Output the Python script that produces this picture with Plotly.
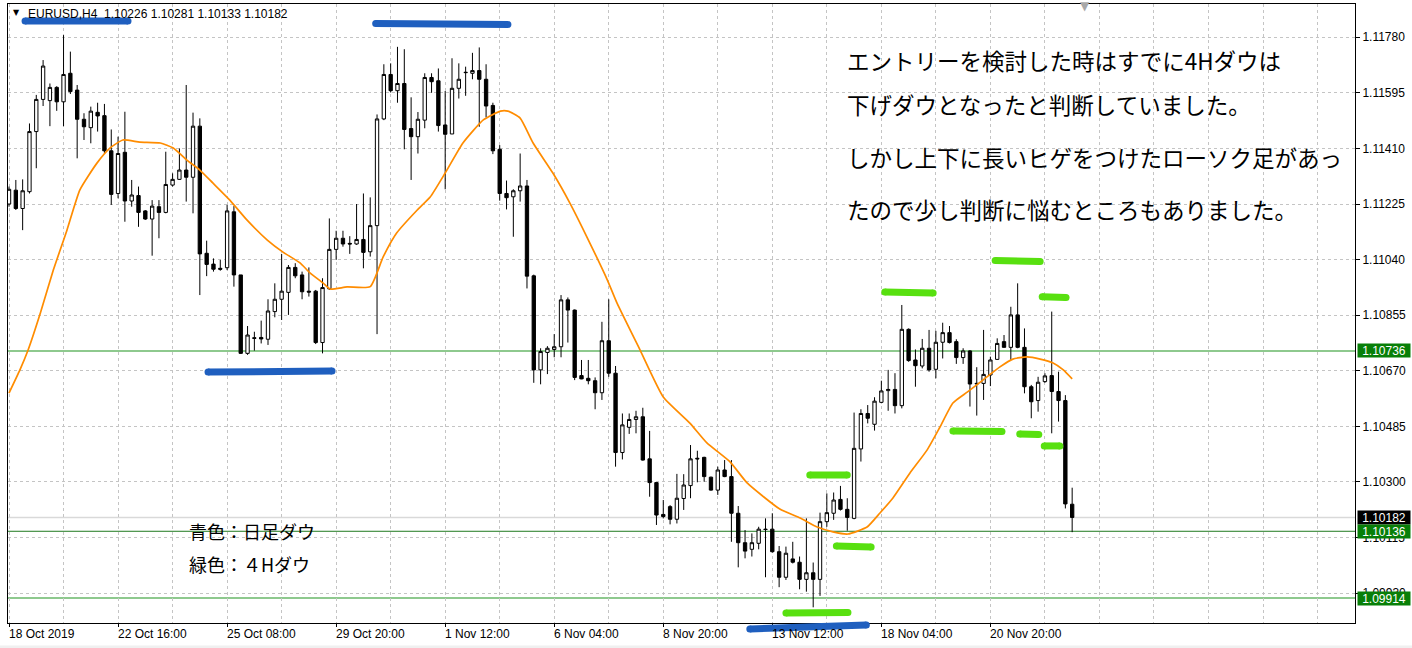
import plotly.graph_objects as go

# ---------------- data ----------------
opens = [1.11225, 1.11271, 1.11210, 1.11266, 1.11466, 1.11573, 1.11569, 1.11613, 1.11565, 1.11660,
         1.11604, 1.11507, 1.11479, 1.11530, 1.11519, 1.11402, 1.11260, 1.11397, 1.11235, 1.11253,
         1.11202, 1.11175, 1.11216, 1.11197, 1.11288, 1.11307, 1.11338, 1.11314, 1.11484, 1.11061,
         1.11025, 1.11011, 1.11013, 1.11199, 1.10989, 1.10728, 1.10780, 1.10781, 1.10775, 1.10867,
         1.10908, 1.10931, 1.11014, 1.10989, 1.10935, 1.10935, 1.10764, 1.10943, 1.11074, 1.11111,
         1.11094, 1.11092, 1.11107, 1.11066, 1.11153, 1.11508, 1.11656, 1.11602, 1.11626, 1.11476,
         1.11449, 1.11504, 1.11646, 1.11635, 1.11488, 1.11458, 1.11610, 1.11662, 1.11660, 1.11669,
         1.11640, 1.11553, 1.11407, 1.11260, 1.11249, 1.11269, 1.11285, 1.10986, 1.10673, 1.10731,
         1.10741, 1.10750, 1.10906, 1.10872, 1.10654, 1.10645, 1.10637, 1.10597, 1.10770, 1.10662,
         1.10398, 1.10482, 1.10508, 1.10517, 1.10377, 1.10298, 1.10192, 1.10218, 1.10176, 1.10245,
         1.10288, 1.10379, 1.10382, 1.10316, 1.10273, 1.10340, 1.10318, 1.10196, 1.10098, 1.10076,
         1.10096, 1.10143, 1.10143, 1.10068, 1.09983, 1.10044, 1.10033, 1.09976, 1.09998, 1.09976,
         1.10168, 1.10196, 1.10242, 1.10209, 1.10179, 1.10410, 1.10528, 1.10492, 1.10565, 1.10604,
         1.10608, 1.10554, 1.10808, 1.10706, 1.10686, 1.10745, 1.10675, 1.10765, 1.10797, 1.10767,
         1.10714, 1.10736, 1.10626, 1.10628, 1.10656, 1.10708, 1.10767, 1.10748, 1.10856, 1.10748,
         1.10617, 1.10571, 1.10634, 1.10654, 1.10601, 1.10571, 1.10226]
highs = [1.11283, 1.11305, 1.11307, 1.11493, 1.11588, 1.11704, 1.11626, 1.11617, 1.11787, 1.11732,
         1.11621, 1.11527, 1.11549, 1.11562, 1.11558, 1.11473, 1.11449, 1.11532, 1.11305, 1.11283,
         1.11205, 1.11238, 1.11238, 1.11399, 1.11327, 1.11410, 1.11621, 1.11529, 1.11510, 1.11103,
         1.11044, 1.11039, 1.11222, 1.11218, 1.10989, 1.10819, 1.10800, 1.10837, 1.10908, 1.10961,
         1.11059, 1.11022, 1.11028, 1.11000, 1.11014, 1.10939, 1.10978, 1.11177, 1.11136, 1.11136,
         1.11118, 1.11225, 1.11260, 1.11247, 1.11523, 1.11690, 1.11693, 1.11748, 1.11740, 1.11580,
         1.11531, 1.11660, 1.11660, 1.11676, 1.11601, 1.11710, 1.11693, 1.11682, 1.11728, 1.11746,
         1.11690, 1.11562, 1.11421, 1.11303, 1.11274, 1.11393, 1.11305, 1.10990, 1.10745, 1.10752,
         1.10792, 1.10922, 1.10914, 1.10874, 1.10706, 1.10706, 1.10648, 1.10833, 1.10908, 1.10686,
         1.10528, 1.10528, 1.10537, 1.10547, 1.10470, 1.10300, 1.10240, 1.10223, 1.10327, 1.10326,
         1.10423, 1.10404, 1.10384, 1.10318, 1.10351, 1.10373, 1.10373, 1.10220, 1.10140, 1.10129,
         1.10151, 1.10179, 1.10196, 1.10087, 1.10085, 1.10101, 1.10052, 1.10179, 1.10032, 1.10198,
         1.10262, 1.10265, 1.10287, 1.10246, 1.10531, 1.10542, 1.10556, 1.10582, 1.10637, 1.10673,
         1.10662, 1.10889, 1.10811, 1.10741, 1.10776, 1.10806, 1.10803, 1.10830, 1.10819, 1.10775,
         1.10745, 1.10739, 1.10682, 1.10806, 1.10717, 1.10778, 1.10789, 1.10883, 1.10961, 1.10811,
         1.10623, 1.10650, 1.10662, 1.10867, 1.10667, 1.10589, 1.10281]
lows = [1.11216, 1.11205, 1.11138, 1.11260, 1.11344, 1.11551, 1.11484, 1.11535, 1.11484, 1.11591,
        1.11377, 1.11438, 1.11427, 1.11466, 1.11393, 1.11222, 1.11244, 1.11166, 1.11216, 1.11149,
        1.11172, 1.11053, 1.11111, 1.11194, 1.11283, 1.11305, 1.11233, 1.11194, 1.10922, 1.10985,
        1.11000, 1.11003, 1.11005, 1.10950, 1.10726, 1.10723, 1.10737, 1.10761, 1.10756, 1.10848,
        1.10839, 1.10856, 1.10978, 1.10908, 1.10917, 1.10759, 1.10728, 1.10939, 1.11039, 1.11083,
        1.11059, 1.11089, 1.11011, 1.11050, 1.10792, 1.11504, 1.11596, 1.11562, 1.11407, 1.11305,
        1.11393, 1.11477, 1.11595, 1.11466, 1.11274, 1.11458, 1.11576, 1.11585, 1.11640, 1.11482,
        1.11513, 1.11391, 1.11236, 1.11207, 1.11116, 1.11233, 1.10944, 1.10630, 1.10625, 1.10659,
        1.10715, 1.10715, 1.10764, 1.10639, 1.10642, 1.10625, 1.10542, 1.10573, 1.10650, 1.10351,
        1.10375, 1.10460, 1.10462, 1.10371, 1.10251, 1.10157, 1.10179, 1.10159, 1.10162, 1.10207,
        1.10246, 1.10299, 1.10301, 1.10271, 1.10257, 1.10316, 1.10101, 1.10016, 1.10046, 1.10052,
        1.10076, 1.09983, 1.10065, 1.09950, 1.09974, 1.10029, 1.09943, 1.09935, 1.09883, 1.09921,
        1.10151, 1.10174, 1.10205, 1.10138, 1.10176, 1.10368, 1.10495, 1.10471, 1.10562, 1.10537,
        1.10528, 1.10545, 1.10700, 1.10617, 1.10678, 1.10667, 1.10645, 1.10711, 1.10761, 1.10693,
        1.10693, 1.10551, 1.10521, 1.10573, 1.10619, 1.10706, 1.10748, 1.10706, 1.10745, 1.10595,
        1.10512, 1.10534, 1.10630, 1.10462, 1.10501, 1.10212, 1.10133]
closes = [1.11274, 1.11210, 1.11269, 1.11466, 1.11573, 1.11684, 1.11613, 1.11565, 1.11656, 1.11599,
          1.11507, 1.11482, 1.11534, 1.11518, 1.11402, 1.11257, 1.11393, 1.11235, 1.11255, 1.11197,
          1.11175, 1.11218, 1.11197, 1.11290, 1.11307, 1.11338, 1.11314, 1.11484, 1.11059, 1.11024,
          1.11008, 1.11008, 1.11202, 1.10989, 1.10728, 1.10789, 1.10778, 1.10776, 1.10869, 1.10908,
          1.10935, 1.11014, 1.10986, 1.10933, 1.10932, 1.10764, 1.10947, 1.11074, 1.11111, 1.11092,
          1.11092, 1.11107, 1.11064, 1.11153, 1.11508, 1.11656, 1.11602, 1.11626, 1.11473, 1.11449,
          1.11507, 1.11646, 1.11632, 1.11486, 1.11457, 1.11610, 1.11640, 1.11663, 1.11669, 1.11640,
          1.11551, 1.11402, 1.11260, 1.11246, 1.11269, 1.11285, 1.10985, 1.10673, 1.10734, 1.10745,
          1.10750, 1.10906, 1.10872, 1.10648, 1.10643, 1.10637, 1.10597, 1.10770, 1.10662, 1.10398,
          1.10490, 1.10508, 1.10517, 1.10373, 1.10298, 1.10190, 1.10185, 1.10176, 1.10246, 1.10290,
          1.10377, 1.10377, 1.10318, 1.10273, 1.10340, 1.10318, 1.10196, 1.10098, 1.10070, 1.10098,
          1.10143, 1.10142, 1.10068, 1.09983, 1.10063, 1.10033, 1.09976, 1.09998, 1.09976, 1.10168,
          1.10198, 1.10240, 1.10209, 1.10182, 1.10412, 1.10528, 1.10512, 1.10569, 1.10603, 1.10608,
          1.10554, 1.10808, 1.10704, 1.10687, 1.10745, 1.10673, 1.10765, 1.10797, 1.10764, 1.10714,
          1.10736, 1.10626, 1.10628, 1.10658, 1.10706, 1.10761, 1.10748, 1.10856, 1.10748, 1.10617,
          1.10567, 1.10632, 1.10653, 1.10601, 1.10571, 1.10227, 1.10182]
bar_index = list(range(len(opens)))

# moving average, read at sample bars
ma_pos = [0.0, 1.6, 2.8, 4.6, 6.5, 8.5, 10.4, 12.9, 14.8, 16.7, 19.2, 22.2, 24.1, 26.1, 28.0, 29.9,
          32.4, 34.9, 37.9, 40.2, 42.7, 44.2, 46.1, 47.1, 49.6, 53.0, 54.9, 56.9, 59.9, 61.8, 64.0,
          66.6, 69.6, 72.1, 73.2, 75.0, 76.9, 79.8, 82.3, 84.8, 87.8, 89.2, 92.6, 96.0, 99.9, 102.4,
          105.8, 108.3, 113.1, 116.1, 118.6, 120.9, 123.1, 125.9, 127.8, 129.7, 132.2, 134.7, 136.6,
          138.5, 140.6, 142.9, 145.4, 147.3, 149.4, 151.3, 153.2, 154.7, 156.0]
ma_val = [1.10596, 1.10673, 1.10739, 1.10862, 1.11005, 1.11138, 1.11272, 1.11361, 1.11411, 1.11438,
          1.11431, 1.11428, 1.11411, 1.11371, 1.11338, 1.11295, 1.11238, 1.11172, 1.11105, 1.11065,
          1.11029, 1.10995, 1.10962, 1.10942, 1.10949, 1.10950, 1.11049, 1.11129, 1.11205, 1.11248,
          1.11328, 1.11428, 1.11505, 1.11534, 1.11534, 1.11511, 1.11428, 1.11328, 1.11228, 1.11115,
          1.10972, 1.10896, 1.10739, 1.10583, 1.10496, 1.10430, 1.10367, 1.10297, 1.10210, 1.10180,
          1.10150, 1.10134, 1.10127, 1.10150, 1.10197, 1.10247, 1.10330, 1.10406, 1.10483, 1.10563,
          1.10599, 1.10639, 1.10683, 1.10709, 1.10716, 1.10709, 1.10696, 1.10673, 1.10643]

price_ticks = [1.09930, 1.10115, 1.10300, 1.10485, 1.10670, 1.10855, 1.11040, 1.11225, 1.11410, 1.11595, 1.11780]
time_tick_pos = [0, 16, 32, 48, 64, 80, 96, 112, 128, 144]
time_tick_text = ["18 Oct 2019", "22 Oct 16:00", "25 Oct 08:00", "29 Oct 20:00", "1 Nov 12:00",
                  "6 Nov 04:00", "8 Nov 20:00", "13 Nov 12:00", "18 Nov 04:00", "20 Nov 20:00"]
grid_pos = list(range(0, 200, 8))

green_levels = [1.10736, 1.10136, 1.09914]
bid_level = 1.10182

# hand-drawn marks: (start bar, start price, end bar, end price)
blue_marks = [(2.35, 1.11834, 17.46, 1.11834), (53.8, 1.11826, 73.2, 1.11822),
              (29.2, 1.10666, 47.4, 1.10669), (108.7, 1.09811, 125.8, 1.09824)]
green_marks = [(117.5, 1.10323, 123.0, 1.10323), (121.4, 1.10087, 126.5, 1.10084),
               (114.0, 1.09864, 123.1, 1.09866), (128.5, 1.10932, 135.6, 1.10929),
               (144.7, 1.11037, 151.3, 1.11034), (138.5, 1.10470, 145.7, 1.10468),
               (148.3, 1.10460, 151.1, 1.10458), (151.6, 1.10916, 155.1, 1.10914),
               (151.9, 1.10420, 154.2, 1.10420)]

header_text = "EURUSD,H4\u00a0\u00a01.10226 1.10281 1.10133 1.10182"
note_lines = ["エントリーを検討した時はすでに4Hダウは",
              "下げダウとなったと判断していました。",
              "しかし上下に長いヒゲをつけたローソク足があっ",
              "たので少し判断に悩むところもありました。"]
legend_lines = ["青色：日足ダウ", "緑色：４Hダウ"]

# ---------------- layout geometry ----------------
W, H = 1412, 648
ML, MR, MT, MB = 8, 57, 4, 25
X_RANGE = [-0.15, 197.5]
Y_RANGE = [1.098308, 1.118905]
PW, PH = W - ML - MR, H - MT - MB

def px(xp, yp):
    return (xp - ML) / PW, (H - MB - yp) / PH

def to_paper_y(p):
    return (p - Y_RANGE[0]) / (Y_RANGE[1] - Y_RANGE[0])

AXIS_FONT = dict(family="Liberation Sans, Arial, sans-serif", size=12, color="black")
JP_FONT = "Noto Sans CJK JP, sans-serif"

fig = go.Figure()
fig.add_trace(go.Candlestick(
    x=bar_index, open=opens, high=highs, low=lows, close=closes,
    increasing=dict(fillcolor="white", line=dict(color="black", width=1)),
    decreasing=dict(fillcolor="black", line=dict(color="black", width=1)),
    whiskerwidth=0, hoverinfo="skip", showlegend=False))
fig.add_trace(go.Scatter(
    x=ma_pos, y=ma_val, mode="lines", line=dict(color="#ff8c00", width=1.7, shape="spline", smoothing=0.5),
    hoverinfo="skip", showlegend=False))

shapes = []
for lv in green_levels:
    dark = abs(lv - 1.10136) < 1e-9
    shapes.append(dict(type="line", xref="paper", x0=0, x1=1, yref="y", y0=lv, y1=lv,
                       line=dict(color="#1f7a1f" if dark else "#8ec98e", width=1 if dark else 2),
                       layer="between"))
shapes.append(dict(type="line", xref="paper", x0=0, x1=1, yref="y", y0=bid_level, y1=bid_level,
                   line=dict(color="#d9d9d9", width=1.5), layer="between"))

def add_mark(seg, color):
    x0, p0, x1, p1 = seg
    y0, y1 = to_paper_y(p0), to_paper_y(p1)
    shapes.append(dict(type="line", xref="x", yref="paper", x0=x0, x1=x1, y0=y0, y1=y1,
                       line=dict(color=color, width=7), layer="above"))
    for xa, ya in ((x0, y0), (x1, y1)):
        shapes.append(dict(type="circle", xref="x", yref="paper", xsizemode="pixel", ysizemode="pixel",
                           xanchor=xa, yanchor=ya, x0=-3.5, x1=3.5, y0=-3.5, y1=3.5,
                           fillcolor=color, line=dict(width=0), layer="above"))

for s in blue_marks:
    add_mark(s, "#1f5fbf")
for s in green_marks:
    add_mark(s, "#58e010")

# bottom window strip
shapes.append(dict(type="rect", xref="paper", yref="paper", x0=-0.01, x1=1.05,
                   y0=px(0, 648)[1], y1=px(0, 645.5)[1], fillcolor="#f0f0f0", line=dict(width=0)))

annotations = []
for pos, txt in zip(time_tick_pos, time_tick_text):
    annotations.append(dict(x=pos, xref="x", y=0, yref="paper", xanchor="left", yanchor="top",
                            xshift=-2, yshift=-2, text=txt, showarrow=False, font=AXIS_FONT))

for lv, bg, txt in ((green_levels[0], "#087f08", "1.10736"), (bid_level, "#000000", "1.10182"),
                    (green_levels[1], "#087f08", "1.10136"), (green_levels[2], "#087f08", "1.09914")):
    annotations.append(dict(x=1, xref="paper", y=lv, yref="y", xanchor="left", yanchor="middle",
                            xshift=2, text=txt, showarrow=False, bgcolor=bg, width=52, height=13,
                            borderpad=0, font=dict(family=AXIS_FONT["family"], size=12, color="white")))

hx, hy = px(26, 13.5)
annotations.append(dict(x=hx, y=hy, xref="paper", yref="paper", xanchor="left", yanchor="middle",
                        text=header_text, showarrow=False, font=AXIS_FONT))
tx, ty = px(16, 12.5)
annotations.append(dict(x=tx, y=ty, xref="paper", yref="paper", xanchor="center", yanchor="middle",
                        text="▼", showarrow=False, font=dict(family="DejaVu Sans", size=8, color="black")))
gx, gy = px(1085, 6)
annotations.append(dict(x=gx, y=gy, xref="paper", yref="paper", xanchor="center", yanchor="middle",
                        text="▼", showarrow=False, font=dict(family="DejaVu Sans", size=12, color="#a8a8a8")))

for line, ypx in zip(note_lines, [60, 104, 157, 209]):
    ax_, ay_ = px(845, ypx)
    annotations.append(dict(x=ax_, y=ay_, xref="paper", yref="paper", xanchor="left", yanchor="middle",
                            text=line, showarrow=False, font=dict(family=JP_FONT, size=22.5, color="black")))
for line, ypx in zip(legend_lines, [531, 564]):
    ax_, ay_ = px(187, ypx)
    annotations.append(dict(x=ax_, y=ay_, xref="paper", yref="paper", xanchor="left", yanchor="middle",
                            text=line, showarrow=False, font=dict(family=JP_FONT, size=18, color="black")))

GRID = dict(showgrid=True, gridcolor="#c4c4c4", griddash="3px,3px", gridwidth=1)

fig.update_layout(
    width=W, height=H, margin=dict(l=ML, r=MR, t=MT, b=MB, pad=0),
    paper_bgcolor="white", plot_bgcolor="white", showlegend=False,
    shapes=shapes, annotations=annotations, hovermode=False,
    xaxis=dict(range=X_RANGE, tickvals=time_tick_pos, showticklabels=False, ticks="outside", ticklen=3,
               tickcolor="black", showline=True, linecolor="black", linewidth=1, mirror=True,
               zeroline=False, rangeslider=dict(visible=False), fixedrange=True,
               minor=dict(tickvals=grid_pos, ticks="", **GRID), **GRID),
    yaxis=dict(range=Y_RANGE, side="right", tickvals=price_ticks, ticktext=[f"{v:.5f}" for v in price_ticks],
               ticks="outside", ticklen=4, tickcolor="black", showline=True, linecolor="black", linewidth=1,
               mirror=True, zeroline=False, tickfont=AXIS_FONT, fixedrange=True, **GRID),
)

fig.write_html("out.html", config={"displayModeBar": False},
               post_script="document.body.style.margin='0';document.body.style.overflow='hidden';")
